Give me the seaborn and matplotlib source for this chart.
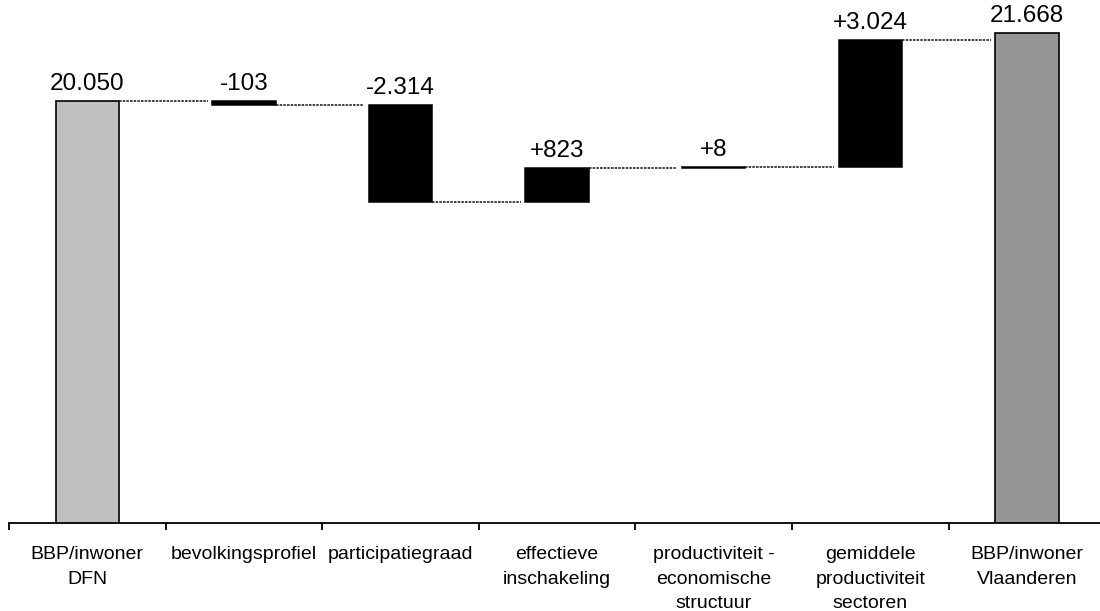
import numpy as np
import pandas as pd
import matplotlib
matplotlib.use("Agg")
import matplotlib.pyplot as plt
import seaborn as sns

# Bridge from GDP per inhabitant (DFN) to GDP per inhabitant (Vlaanderen)
categories = [
    "BBP/inwoner\nDFN",
    "bevolkingsprofiel",
    "participatiegraad",
    "effectieve\ninschakeling",
    "productiviteit -\neconomische\nstructuur",
    "gemiddele\nproductiviteit\nsectoren",
    "BBP/inwoner\nVlaanderen",
]
start_value = 20050
changes = [-103, -2314, 823, 8, 3024]
end_value = 21668
value_labels = ["20.050", "-103", "-2.314", "+823", "+8", "+3.024", "21.668"]
bar_colors = ["#C0C0C0", "#000000", "#000000", "#000000", "#000000", "#000000", "#969696"]

sns.set_theme(style="white")
plt.rcParams["font.family"] = ["Liberation Sans", "DejaVu Sans"]

# running level after each step
levels = np.concatenate([[start_value], start_value + np.cumsum(changes)])
bottoms = [0.0] + list(np.minimum(levels[:-1], levels[1:])) + [0.0]
tops = [float(start_value)] + list(np.maximum(levels[:-1], levels[1:])) + [float(end_value)]

df = pd.DataFrame({"stap": categories, "top": tops, "bodem": bottoms})

fig = plt.figure(figsize=(11, 6.11), dpi=100)
ax = fig.add_axes([9 / 1100, (611 - 522.7) / 611, 1 - 9 / 1100, 522.7 / 611])

sns.barplot(
    data=df, x="stap", y="top", hue="stap", palette=bar_colors, legend=False,
    width=0.404, edgecolor="black", linewidth=1.0, saturation=1, ax=ax,
)

# turn the middle bars into floating segments
for i, patch in enumerate(ax.patches):
    patch.set_y(bottoms[i])
    patch.set_height(tops[i] - bottoms[i])
    if 0 < i < len(categories) - 1:
        patch.set_linewidth(1.1)
    else:
        patch.set_linewidth(1.2)

ax.set_xlim(-0.5, -0.5 + 1091 / 156.6)
ax.set_ylim(10000, 22448)

# dotted connectors between consecutive bars
half = 0.404 / 2
gap = 0.03
for i in range(len(levels)):
    ax.plot([i + half, i + 1 - half - gap], [levels[i], levels[i]],
            color="#222222", lw=1.2, ls=(0, (1.5, 0.7)), zorder=1)

# value labels above each bar
for i, lab in enumerate(value_labels):
    ax.annotate(lab, (i, tops[i]), xytext=(0, 8), textcoords="offset points",
                ha="center", va="baseline", fontsize=17.5, color="black")

# axis styling
for side in ["left", "right", "top"]:
    ax.spines[side].set_visible(False)
ax.spines["bottom"].set_color("black")
ax.spines["bottom"].set_linewidth(1.3)
ax.set_yticks([])
ax.set_xlabel("")
ax.set_ylabel("")
ax.set_xticks(range(len(categories)))
ax.set_xticklabels(categories, fontsize=14, linespacing=1.56)
ax.set_xticks(np.arange(-0.5, len(categories) - 0.5, 1.0), minor=True)
ax.tick_params(axis="x", which="major", length=0, pad=17, colors="black")
ax.tick_params(axis="x", which="minor", length=5, width=1.3, direction="out",
               color="black", bottom=True)
ax.grid(False)

fig.savefig("out.png", dpi=100)
